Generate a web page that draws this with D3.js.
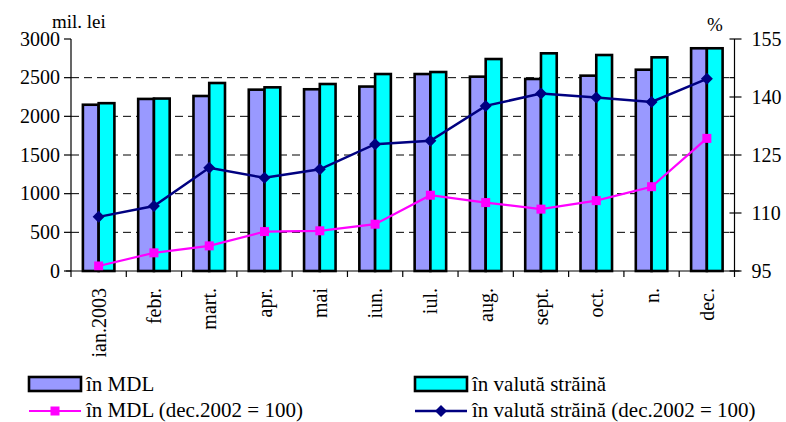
<!DOCTYPE html>
<html><head><meta charset="utf-8">
<script src="https://cdn.jsdelivr.net/npm/d3@7"></script>
<style>
body{margin:0;background:#fff;}
svg text{font-family:'Liberation Serif','Times New Roman','DejaVu Serif',serif;fill:#000;}
</style></head>
<body><svg id="c" width="786" height="422"></svg>
<script>
const categories = ["ian.2003","febr.","mart.","apr.","mai","iun.","iul.","aug.","sept.","oct.","n.","dec."];
const mdlValues = [2150,2225,2263,2345,2350,2385,2547,2513,2483,2526,2603,2880];
const fxValues  = [2170,2230,2431,2375,2418,2547,2573,2741,2815,2793,2763,2880];
const mdlIndex  = [96.3,99.7,101.5,105.2,105.4,107.1,114.6,112.7,111.0,113.2,116.8,129.3];
const fxIndex   = [109.0,111.8,121.7,119.1,121.3,127.8,128.7,137.7,140.9,139.9,138.7,144.7];
const leftTicks = [0,500,1000,1500,2000,2500,3000];
const rightTicks = [95,110,125,140,155];
const rightMinor = [105,115,135,145];

const FONT = "'Liberation Serif','Times New Roman','DejaVu Serif',serif";
const svg = d3.select("#c").attr("font-family", FONT);
const L = 71, R = 734.5, T = 39, B = 271;
const x = d3.scaleBand().domain(categories).range([L, R]).paddingInner(0.43).paddingOuter(0.215);
const xs = d3.scaleBand().domain(["mdl","fx"]).range([0, x.bandwidth()]);
const yL = d3.scaleLinear().domain([0,3000]).range([B, T]);
const yR = d3.scaleLinear().domain([95,155]).range([B, T]);

// gridlines
svg.append("g").selectAll("line").data(leftTicks.filter(d => d>0 && d<3000)).join("line")
  .attr("x1", L).attr("x2", R).attr("y1", d=>yL(d)).attr("y2", d=>yL(d))
  .attr("stroke","#000").attr("stroke-width",1).attr("stroke-dasharray","8,5");

// bars
const bars = svg.append("g");
categories.forEach((c,i) => {
  [["mdl", mdlValues[i], "#9999FF"], ["fx", fxValues[i], "#00FFFF"]].forEach(([k,v,col]) => {
    bars.append("rect")
      .attr("x", x(c) + xs(k)).attr("width", xs.bandwidth())
      .attr("y", yL(v)).attr("height", B - yL(v))
      .attr("fill", col).attr("stroke", "#000").attr("stroke-width", 2.6);
  });
});

// lines
const cx = c => x(c) + x.bandwidth()/2;
const line = d3.line().x(d=>cx(d[0])).y(d=>yR(d[1]));
svg.append("path").datum(categories.map((c,i)=>[c, fxIndex[i]]))
  .attr("d", line).attr("fill","none").attr("stroke","#000080").attr("stroke-width",2.5);
svg.append("path").datum(categories.map((c,i)=>[c, mdlIndex[i]]))
  .attr("d", line).attr("fill","none").attr("stroke","#FF00FF").attr("stroke-width",2.2);
const diamond = (px,py,s) => `M${px},${py-s}L${px+s},${py}L${px},${py+s}L${px-s},${py}Z`;
svg.append("g").selectAll("path").data(categories.map((c,i)=>[c, fxIndex[i]])).join("path")
  .attr("d", d=>diamond(cx(d[0]), yR(d[1]), 6)).attr("fill","#000080");
svg.append("g").selectAll("rect").data(categories.map((c,i)=>[c, mdlIndex[i]])).join("rect")
  .attr("x", d=>cx(d[0])-4.5).attr("y", d=>yR(d[1])-4.5).attr("width",9).attr("height",9).attr("fill","#FF00FF");

// axes
const ax = svg.append("g").attr("stroke","#000").attr("stroke-width",1.2);
ax.append("line").attr("x1",L).attr("x2",L).attr("y1",T).attr("y2",B);
ax.append("line").attr("x1",R).attr("x2",R).attr("y1",T).attr("y2",B);
ax.append("line").attr("x1",L-5).attr("x2",R+5).attr("y1",B).attr("y2",B);
leftTicks.forEach(t => ax.append("line").attr("x1",L-7).attr("x2",L).attr("y1",yL(t)).attr("y2",yL(t)));
svg.append("g").selectAll("text").data(leftTicks).join("text")
  .attr("x", L-11).attr("y", d=>yL(d)).attr("dy","0.34em").attr("text-anchor","end")
  .attr("font-family", FONT).style("font-size","20px").text(d=>d);
rightTicks.forEach(t => ax.append("line").attr("x1",R-5).attr("x2",R+7).attr("y1",yR(t)).attr("y2",yR(t)));
rightMinor.forEach(t => ax.append("line").attr("x1",R-5).attr("x2",R).attr("y1",yR(t)).attr("y2",yR(t)));
svg.append("g").selectAll("text").data(rightTicks).join("text")
  .attr("x", R+17).attr("y", d=>yR(d)).attr("dy","0.34em").attr("text-anchor","start")
  .attr("font-family", FONT).style("font-size","20px").text(d=>d);
const step = x.step();
d3.range(0, 13).forEach(i => ax.append("line").attr("x1", L + i*step).attr("x2", L + i*step).attr("y1", B).attr("y2", B+6));
svg.append("g").selectAll("text").data(categories).join("text")
  .attr("transform", d=>`translate(${cx(d)},288) rotate(-90)`)
  .attr("text-anchor","end").attr("dy","0.35em").attr("font-family", FONT).style("font-size","20px").text(d=>d);

// unit labels
svg.append("text").attr("x",52).attr("y",28).attr("font-family", FONT).style("font-size","19px").text("mil. lei");
svg.append("text").attr("x",715).attr("y",31).attr("text-anchor","middle").attr("font-family", FONT).style("font-size","19px").text("%");

// legend
const lg = svg.append("g");
const legendBars = [["în MDL","#9999FF",29],["în valută străină","#00FFFF",415]];
legendBars.forEach(([t,col,lx]) => {
  lg.append("rect").attr("x",lx).attr("y",377).attr("width",52).attr("height",14)
    .attr("fill",col).attr("stroke","#000").attr("stroke-width",2.6);
  lg.append("text").attr("x",lx+57).attr("y",391).attr("font-family", FONT).style("font-size","21px").text(t);
});
lg.append("line").attr("x1",29).attr("x2",81).attr("y1",411).attr("y2",411).attr("stroke","#FF00FF").attr("stroke-width",2.2);
lg.append("rect").attr("x",55-4.5).attr("y",411-4.5).attr("width",9).attr("height",9).attr("fill","#FF00FF");
lg.append("text").attr("x",86).attr("y",417).attr("font-family", FONT).style("font-size","21px").text("în MDL (dec.2002 = 100)");
lg.append("line").attr("x1",415).attr("x2",467).attr("y1",411).attr("y2",411).attr("stroke","#000080").attr("stroke-width",2.5);
lg.append("path").attr("d",diamond(441,411,6)).attr("fill","#000080");
lg.append("text").attr("x",472).attr("y",417).attr("font-family", FONT).style("font-size","21px").text("în valută străină (dec.2002 = 100)");
</script></body></html>
